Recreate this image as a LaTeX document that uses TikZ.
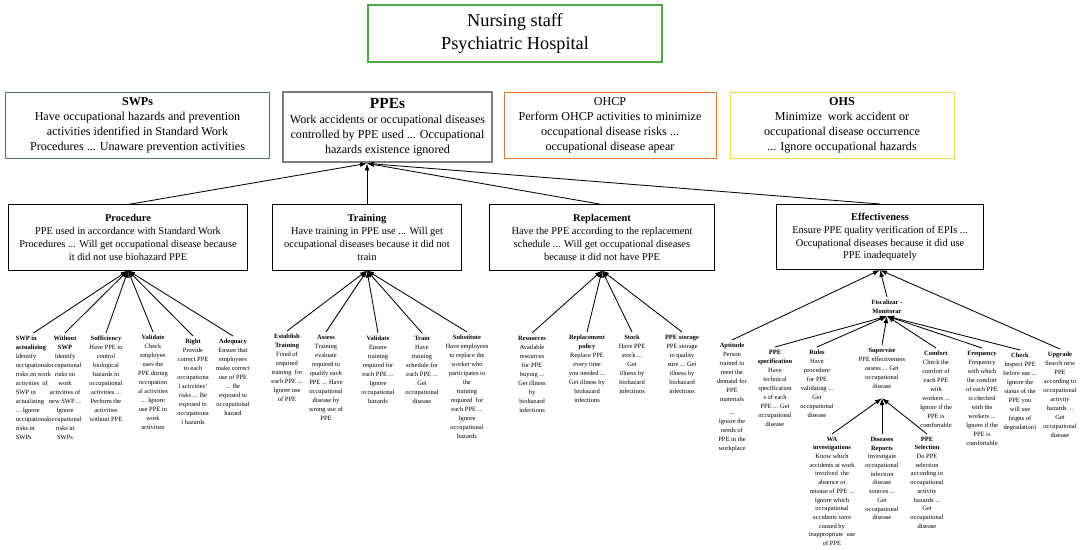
\documentclass[tikz,border=0pt]{standalone}
\usepackage{fontspec}
\setmainfont{Liberation Serif}
\usetikzlibrary{arrows.meta}
\definecolor{topgreen}{RGB}{80,165,70}
\definecolor{swpblue}{RGB}{90,112,140}
\definecolor{ohcporange}{RGB}{220,118,58}
\definecolor{ohsyellow}{RGB}{244,212,96}
\definecolor{ppegray}{RGB}{125,125,125}
\tikzset{
	topbox/.style={draw=topgreen, line width=1pt, minimum width=7.35cm, minimum height=1.425cm, align=center, font=\fontsize{13}{16}\selectfont},
	lvlone/.style={draw, line width=0.6pt, align=center, inner sep=2pt, minimum height=1.65cm, font=\fontsize{8.6}{10.6}\selectfont},
	lvltwo/.style={draw, line width=0.7pt, align=center, minimum height=1.625cm, font=\fontsize{7.4}{9.2}\selectfont},
	leaf/.style={align=center, inner sep=0pt, outer sep=2pt, anchor=north, font=\fontsize{4.6}{6.4}\selectfont},
	link/.style={-{Latex[length=5pt,width=3.5pt]}, line width=0.6pt},
}
\begin{document}
\begin{tikzpicture}[x=0.025cm, y=-0.025cm]
	\useasboundingbox (0,0) rectangle (1090,550);
	\node[topbox] (nurse) at (515, 33.5){Nursing staff\\Psychiatric Hospital};

	\node[lvlone, draw=swpblue, minimum width=6.6cm] (swp) at (137.5, 125){\textbf{SWPs}\\Have occupational hazards and prevention\\activities identified in Standard Work\\Procedures ... Unaware prevention activities};
	\node[lvlone, draw=ppegray, line width=2pt, minimum width=5.225cm, minimum height=1.75cm] (ppe) at (387.5, 127){{\fontsize{11}{13}\selectfont\textbf{PPEs}}\\Work accidents or occupational diseases\\controlled by PPE used ... Occupational\\hazards existence ignored};
	\node[lvlone, draw=ohcporange, minimum width=5.3cm] (ohcp) at (610, 125){OHCP\\Perform OHCP activities to minimize\\occupational disease risks ...\\occupational disease apear};
	\node[lvlone, draw=ohsyellow, minimum width=5.6cm] (ohs) at (842, 125){\textbf{OHS}\\Minimize\ \ work accident or\\occupational disease occurrence\\... Ignore occupational hazards};

	\node[lvltwo, minimum width=5.95cm] (proc) at (128, 237.5){\textbf{Procedure}\\PPE used in accordance with Standard Work\\Procedures ... Will get occupational disease because\\it did not use biohazard PPE};
	\node[lvltwo, minimum width=4.7cm] (train) at (367, 237.5){\textbf{Training}\\Have training in PPE use ... Will get\\occupational diseases because it did not\\train};
	\node[lvltwo, minimum width=5.6cm] (repl) at (602, 237.5){\textbf{Replacement}\\Have the PPE according to the replacement\\schedule ... Will get occupational diseases\\because it did not have PPE};
	\node[lvltwo, minimum width=5.15cm] (effect) at (880, 237){\textbf{Effectiveness}\\Ensure PPE quality verification of EPIs ...\\Occupational diseases because it did use\\PPE inadequately};

	\coordinate (ppein) at (ppe.south -| train.north);
	\draw[link] (proc.north) to (ppein);
	\draw[link] (train.north) to (ppein);
	\draw[link] (repl.north) to (ppein);
	\draw[link] (effect.north) to (ppein);

	\node[leaf, align=left, anchor=north west] (swpact) at (13, 333){\textbf{SWP in}\\\textbf{actualizing}\\Identify\\occupational\\risks on work\\activities\ \ of\\SWP in\\actualizing\\... Ignore\\occupational\\risks in\\SWPs};
	\node[leaf] (nswp) at (65, 333){\textbf{Without}\\\textbf{SWP}\\Identify\\occupational\\risks on\\work\\activities of\\new SWP ...\\Ignore\\occupational\\risks in\\SWPs};
	\node[leaf] (suff) at (106, 333){\textbf{Sufficiency}\\Have PPE to\\control\\biological\\hazards in\\occupational\\activities ...\\Perform the\\activities\\without PPE};
	\node[leaf] (valid) at (153, 332){\textbf{Validate}\\Check\\employee\\uses the\\PPE during\\occupation\\al activities\\... Ignore\\use PPE in\\work\\activities};
	\node[leaf] (right) at (193, 336){\textbf{Right}\\Provide\\correct PPE\\to each\\occupationa\\l activities'\\risks ... Be\\exposed to\\occupationa\\l hazards};
	\node[leaf] (adeq) at (233, 336){\textbf{Adequacy}\\Ensure that\\employees\\make correct\\use of PPE\\... Be\\exposed to\\occupational\\hazard};
	\draw[link] (swpact.north) to (proc.south);
	\draw[link] (nswp.north) to (proc.south);
	\draw[link] (suff.north) to (proc.south);
	\draw[link] (valid.north) to (proc.south);
	\draw[link] (right.north) to (proc.south);
	\draw[link] (adeq.north) to (proc.south);

	\node[leaf] (estab) at (287, 331){\textbf{Establish}\\\textbf{Training}\\Fixed of\\required\\training\ \ for\\each PPE ...\\Ignore use\\of PPE};
	\node[leaf] (assess) at (326, 332){\textbf{Assess}\\Training\\evaluate\\required to\\qualify each\\PPE ... Have\\occupational\\disease by\\wrong use of\\PPE};
	\node[leaf] (tvalid) at (378, 333){\textbf{Validate}\\Ensure\\training\\required for\\each PPE ...\\Ignore\\occupational\\hazards};
	\node[leaf] (trn) at (422, 333){\textbf{Train}\\Have\\training\\schedule for\\each PPE ...\\Get\\occupational\\disease};
	\node[leaf] (subst) at (467, 332){\textbf{Substitute}\\Have employees\\to replace the\\worker who\\participates in\\the\\training\\required\ \ for\\each PPE ...\\Ignore\\occupational\\hazards};
	\draw[link] (estab.north) to (train.south);
	\draw[link] (assess.north) to (train.south);
	\draw[link] (tvalid.north) to (train.south);
	\draw[link] (trn.north) to (train.south);
	\draw[link] (subst.north) to (train.south);

	\node[leaf] (resour) at (532, 333){\textbf{Resources}\\Available\\resources\\for PPE\\buying ...\\Get illness\\by\\biohazard\\infections};
	\node[leaf] (rpolicy) at (587, 332){\textbf{Replacement}\\\textbf{policy}\\Replace PPE\\every time\\you needed ...\\Get illness by\\biohazard\\infections};
	\node[leaf] (stock) at (632, 332){\textbf{Stock}\\Have PPE\\stock ...\\Get\\illness by\\biohazard\\infections};
	\node[leaf] (storage) at (682, 332){\textbf{PPE storage}\\PPE storage\\to quality\\sure ... Get\\illness by\\biohazard\\infections};
	\draw[link] (resour.north) to (repl.south);
	\draw[link] (rpolicy.north) to (repl.south);
	\draw[link] (stock.north) to (repl.south);
	\draw[link] (storage.north) to (repl.south);

	\node[leaf] (aptit) at (732, 340){\textbf{Aptitude}\\Person\\trained to\\meet the\\demand for\\PPE\\materials\\[3pt]...\\Ignore the\\needs of\\PPE in the\\workplace};
	\node[leaf] (fisc) at (887, 297){\textbf{Fiscalizar -}\\\textbf{Monitorar}};
	\node[leaf] (upgr) at (1060, 349){\textbf{Upgrade}\\Search new\\PPE\\according to\\occupational\\activity\\hazards ...\\Get\\occupational\\disease};
	\draw[link] (aptit.north) to (effect.south);
	\draw[link] (fisc.north) to (effect.south);
	\draw[link] (upgr.north) to (effect.south);

	\node[leaf] (pspec) at (775, 347){\textbf{PPE}\\\textbf{specification}\\Have\\technical\\specification\\s of each\\PPE ... Get\\occupational\\disease};
	\node[leaf] (rules) at (817, 347){\textbf{Rules}\\Have\\procedure\\for PPE\\validating ...\\Get\\occupational\\disease};
	\node[leaf] (superv) at (882, 345){\textbf{Supervise}\\PPE effectiveness\\assess ... Get\\occupational\\disease};
	\node[leaf] (comf) at (936, 348){\textbf{Comfort}\\Check the\\comfort of\\each PPE\\with\\workers ...\\Ignore if the\\PPE is\\comfortable};
	\node[leaf] (freq) at (982, 348){\textbf{Frequency}\\Frequency\\with which\\the comfort\\of each PPE\\is checked\\with the\\workers ...\\Ignore if the\\PPE is\\comfortable};
	\node[leaf] (check) at (1020, 350){\textbf{Check}\\Inspect PPE\\before use ...\\Ignore the\\status of the\\PPE you\\will use\\(signs of\\degradation)};
	\draw[link] (pspec.north) to (fisc.south);
	\draw[link] (rules.north) to (fisc.south);
	\draw[link] (superv.north) to (fisc.south);
	\draw[link] (comf.north) to (fisc.south);
	\draw[link] (freq.north) to (fisc.south);
	\draw[link] (check.north) to (fisc.south);

	\coordinate (supin) at ([yshift=-5pt]superv.south);
	\node[leaf, font=\fontsize{4.6}{6.2}\selectfont] (wa) at (832, 434){\textbf{WA}\\\textbf{investigations}\\Know which\\accidents at work\\involved\ \ the\\absence or\\misuse of PPE ...\\Ignore which\\occupational\\accidents were\\caused by\\inappropriate\ \ use\\of PPE};
	\node[leaf, font=\fontsize{4.6}{6.2}\selectfont] (disrep) at (882, 434){\textbf{Diseases}\\\textbf{Reports}\\Investigate\\occupational\\infection\\disease\\sources ...\\Get\\occupational\\disease};
	\node[leaf, font=\fontsize{4.6}{6.2}\selectfont] (psel) at (927, 434){\textbf{PPE}\\\textbf{Selection}\\Do PPE\\selection\\according to\\occupational\\activity\\hazards ...\\Get\\occupational\\disease};
	\draw[link] (wa.north) to (supin);
	\draw[link] (disrep.north) to (supin);
	\draw[link] (psel.north) to (supin);
\end{tikzpicture}
\end{document}
